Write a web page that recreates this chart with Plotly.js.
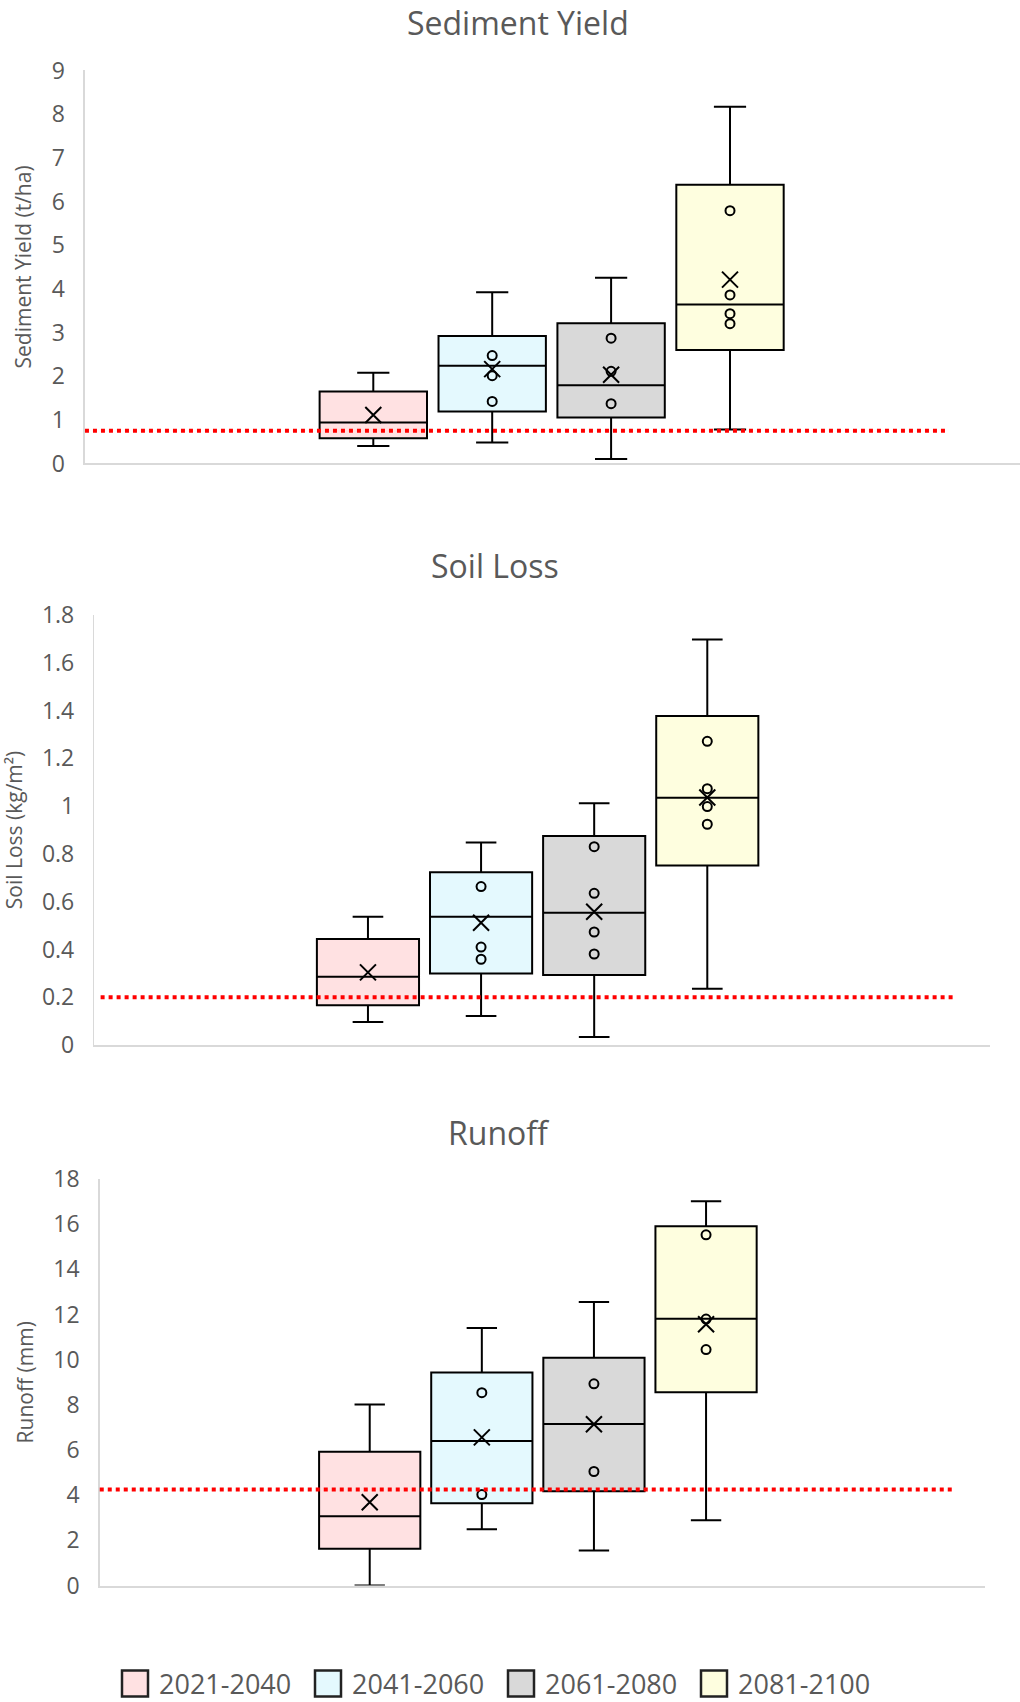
<!DOCTYPE html>
<html>
<head>
<meta charset="utf-8">
<script src="https://cdn.plot.ly/plotly-3.0.1.min.js"></script>
<style>
html,body{margin:0;padding:0;background:#ffffff;width:1020px;height:1702px;overflow:hidden;}
#chart{width:1020px;height:1702px;overflow:hidden;}
</style>
</head>
<body>
<div id="chart"></div>
<script>
// ---------------- DATA ----------------
const periods = ["2021-2040", "2041-2060", "2061-2080", "2081-2100"];

// Sediment Yield (t/ha)
const syLower  = [0.40, 0.48, 0.10, 0.78];
const syQ1     = [0.58, 1.19, 1.05, 2.60];
const syMedian = [0.94, 2.24, 1.79, 3.64];
const syQ3     = [1.65, 2.92, 3.21, 6.38];
const syUpper  = [2.08, 3.92, 4.25, 8.17];
const syMean   = [1.11, 2.16, 2.03, 4.21];
const syPoints = [[], [2.47, 2.01, 1.42], [2.87, 2.11, 1.37], [5.79, 3.86, 3.43, 3.20]];
const syThreshold = 0.75;

// Soil Loss (kg/m²)
const slLower  = [0.096, 0.121, 0.034, 0.236];
const slQ1     = [0.166, 0.299, 0.293, 0.751];
const slMedian = [0.286, 0.537, 0.554, 1.035];
const slQ3     = [0.444, 0.723, 0.875, 1.377];
const slUpper  = [0.537, 0.848, 1.012, 1.697];
const slMean   = [0.304, 0.512, 0.558, 1.036];
const slPoints = [[], [0.663, 0.410, 0.359], [0.830, 0.635, 0.473, 0.381], [1.271, 1.073, 0.998, 0.924]];
const slThreshold = 0.2;

// Runoff (mm)
const roLower  = [0.00, 2.49, 1.55, 2.89];
const roQ1     = [1.63, 3.65, 4.18, 8.56];
const roMedian = [3.07, 6.40, 7.15, 11.81];
const roQ3     = [5.93, 9.43, 10.09, 15.91];
const roUpper  = [8.02, 11.40, 12.55, 17.01];
const roMean   = [3.69, 6.56, 7.14, 11.57];
const roPoints = [[], [8.54, 4.03], [8.93, 5.05], [15.53, 11.80, 10.45]];
const roThreshold = 4.25;

// ---------------- STYLE ----------------
const fillColors = ["#FFE1E2", "#E4F9FE", "#D9D9D9", "#FEFEDF"];
const FONT = "Open Sans, Noto Sans, sans-serif";
const GREY = "#595959";

const panels = [
  {n: "", lower: syLower, q1: syQ1, med: syMedian, q3: syQ3, upper: syUpper, mean: syMean, pts: syPoints, thr: syThreshold},
  {n: "2", lower: slLower, q1: slQ1, med: slMedian, q3: slQ3, upper: slUpper, mean: slMean, pts: slPoints, thr: slThreshold},
  {n: "3", lower: roLower, q1: roQ1, med: roMedian, q3: roQ3, upper: roUpper, mean: roMean, pts: roPoints, thr: roThreshold}
];

const traces = [];
const shapes = [];
const thrExtent = [[0, 0.922], [0.007, 0.962], [0, 0.966]];

panels.forEach((p, k) => {
  const xa = "x" + p.n, ya = "y" + p.n;
  periods.forEach((per, i) => {
    traces.push({
      type: "box", xaxis: xa, yaxis: ya,
      x: [per],
      q1: [p.q1[i]], median: [p.med[i]], q3: [p.q3[i]],
      lowerfence: [p.lower[i]], upperfence: [p.upper[i]],
      name: per, legendgroup: per, showlegend: k === 0,
      fillcolor: fillColors[i],
      line: {color: "#000000", width: 2},
      whiskerwidth: 0.3,
      boxpoints: false,
      hoverinfo: "skip"
    });
  });
  // inner points
  const px = [], py = [];
  p.pts.forEach((arr, i) => arr.forEach(v => { px.push(periods[i]); py.push(v); }));
  traces.push({
    type: "scatter", mode: "markers", xaxis: xa, yaxis: ya,
    x: px, y: py, showlegend: false, hoverinfo: "skip",
    marker: {symbol: "circle-open", size: 9, color: "#000000", line: {width: 2, color: "#000000"}}
  });
  // means
  traces.push({
    type: "scatter", mode: "markers", xaxis: xa, yaxis: ya,
    x: periods, y: p.mean, showlegend: false, hoverinfo: "skip",
    marker: {symbol: "x-thin-open", size: 16, color: "#000000", line: {width: 2, color: "#000000"}}
  });
  shapes.push({
    type: "line", xref: xa + " domain", yref: ya,
    x0: thrExtent[k][0], x1: thrExtent[k][1], y0: p.thr, y1: p.thr,
    line: {color: "#FF0000", width: 4, dash: "dot"}
  });
});

function xAxis(domain, anchor, range) {
  return {
    domain: domain, anchor: anchor, type: "category", categoryarray: periods,
    range: range, showticklabels: false, ticks: "",
    showgrid: false, zeroline: false, showline: true,
    linecolor: "#D9D9D9", linewidth: 2, fixedrange: true
  };
}
function yAxis(domain, anchor, range, dtick, title) {
  return {
    domain: domain, anchor: anchor, range: range, dtick: dtick, tick0: 0,
    showgrid: false, zeroline: false, showline: true,
    linecolor: "#D9D9D9", linewidth: 1.5,
    ticks: "outside", ticklen: 14, tickcolor: "rgba(0,0,0,0)",
    tickfont: {family: FONT, size: 23, color: GREY},
    title: {text: title, font: {family: FONT, size: 21, color: GREY}, standoff: 14},
    fixedrange: true
  };
}

const layout = {
  width: 1020, height: 1702,
  margin: {l: 0, r: 0, t: 0, b: 0, autoexpand: false},
  paper_bgcolor: "#ffffff", plot_bgcolor: "#ffffff",
  font: {family: FONT, color: GREY},
  boxmode: "overlay", boxgap: 0.097, boxgroupgap: 0,
  xaxis:  xAxis([0.0833, 1.0], "y", [-2.425, 5.439]),
  yaxis:  yAxis([0.7277, 0.9586], "x", [0, 9], 1, "Sediment Yield (t/ha)"),
  xaxis2: xAxis([0.0925, 0.9702], "y2", [-2.419, 5.496]),
  yaxis2: yAxis([0.3860, 0.6387], "x2", [0, 1.8], 0.2, "Soil Loss (kg/m²)"),
  xaxis3: xAxis([0.0978, 0.9660], "y3", [-2.408, 5.491]),
  yaxis3: yAxis([0.0684, 0.3073], "x3", [0, 18], 2, "Runoff (mm)"),
  shapes: shapes,
  showlegend: true,
  legend: {
    orientation: "h", x: 0.4951, xanchor: "center", y: 0.0106, yanchor: "middle",
    font: {family: FONT, size: 27, color: GREY}, bgcolor: "rgba(0,0,0,0)",
    itemwidth: 30, entrywidth: 148, entrywidthmode: "pixels"
  },
  annotations: [
    {text: "Sediment Yield", xref: "paper", yref: "paper", x: 0.5075, y: 0.987, xanchor: "center", yanchor: "middle", showarrow: false, font: {family: FONT, size: 32, color: GREY}},
    {text: "Soil Loss", xref: "paper", yref: "paper", x: 0.4853, y: 0.6675, xanchor: "center", yanchor: "middle", showarrow: false, font: {family: FONT, size: 32, color: GREY}},
    {text: "Runoff", xref: "paper", yref: "paper", x: 0.4892, y: 0.3349, xanchor: "center", yanchor: "middle", showarrow: false, font: {family: FONT, size: 32, color: GREY}}
  ]
};

Plotly.newPlot("chart", traces, layout, {displayModeBar: false, staticPlot: true}).then(() => {
  // enlarge the legend swatches to match the larger square keys of the original
  document.querySelectorAll("#chart g.legendpoints path.legendbox").forEach(el => {
    el.setAttribute("d", "M9,13H-17V-13H9Z");
    el.style.strokeWidth = "2.5px";
    el.style.stroke = "#222222";
  });
});
</script>
</body>
</html>
